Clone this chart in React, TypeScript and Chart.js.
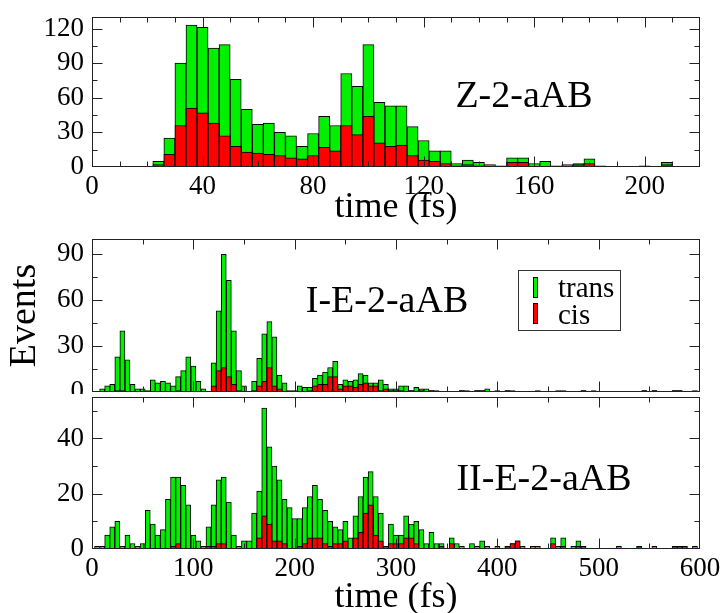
import React, { useEffect, useRef } from 'react';
import { Chart, registerables } from 'chart.js';

Chart.register(...registerables);

const SERIF = '"Liberation Serif", "Times New Roman", serif';
const GREEN = '#00f000';
const RED = '#ff0000';
const INK = '#222';

// ---------- Panel 1: Z-2-aAB (4 fs bins) ----------
const zTime = [24, 28, 32, 36, 40, 44, 48, 52, 56, 60, 64, 68, 72, 76, 80, 84, 88, 92, 96, 100, 104, 108, 112, 116, 120, 124, 128, 132, 136, 140, 144, 148, 152, 156, 160, 164, 168, 172, 176, 180, 184, 200, 208];
const zTrans = [5, 25, 90, 123, 121, 103, 106, 76, 50, 37, 38, 30, 27, 18, 29, 44, 36, 81, 70, 106, 56, 53, 53, 35, 23, 14, 14, 3, 6, 4, 2, 1, 8, 8, 3, 5, 1, 2, 3, 7, 1, 1, 4];
const zCis = [2, 11, 36, 51, 47, 38, 27, 18, 13, 12, 11, 10, 8, 7, 10, 17, 14, 36, 28, 44, 21, 18, 19, 10, 6, 5, 3, 1, 2, 1, 0, 0, 4, 4, 0, 0, 0, 0, 2, 3, 0, 0, 2];

// ---------- Panel 2: I-E-2-aAB (5 fs bins) ----------
const iTime = [10, 15, 20, 25, 30, 35, 40, 45, 50, 55, 60, 65, 70, 75, 80, 85, 90, 95, 100, 105, 110, 120, 125, 130, 135, 140, 145, 150, 160, 165, 170, 175, 180, 185, 190, 195, 200, 205, 210, 215, 220, 225, 230, 235, 240, 245, 250, 255, 260, 265, 270, 275, 280, 285, 290, 295, 300, 305, 310, 315, 320, 325, 330, 335, 340, 365, 370, 380, 385, 390, 400, 410, 415, 440, 460, 465, 485, 495, 545, 555, 575, 580, 595];
const iTrans = [2, 4, 5, 23, 40, 21, 5, 2, 2, 1, 8, 6, 7, 6, 4, 10, 14, 23, 17, 7, 2, 19, 53, 90, 73, 40, 14, 4, 7, 22, 38, 46, 36, 11, 6, 1, 1, 4, 3, 3, 9, 11, 13, 16, 20, 5, 8, 7, 8, 12, 11, 6, 6, 8, 5, 2, 2, 4, 4, 1, 3, 2, 2, 1, 1, 1, 1, 1, 1, 2, 1, 1, 1, 1, 1, 1, 1, 1, 1, 1, 1, 1, 1];
const iCis = [0, 0, 0, 1, 1, 0, 0, 0, 0, 0, 0, 0, 0, 0, 0, 1, 0, 0, 0, 0, 0, 4, 14, 16, 10, 5, 1, 0, 1, 4, 7, 16, 4, 2, 0, 0, 0, 0, 0, 1, 4, 5, 5, 10, 10, 2, 4, 4, 3, 5, 6, 4, 4, 1, 2, 1, 1, 1, 0, 1, 0, 1, 0, 1, 0, 1, 0, 1, 1, 0, 0, 1, 0, 0, 0, 0, 1, 0, 1, 1, 1, 1, 0];

// ---------- Panel 3: II-E-2-aAB (5 fs bins) ----------
const bTime = [5, 10, 15, 20, 25, 30, 35, 40, 45, 50, 55, 60, 65, 70, 75, 80, 85, 90, 95, 100, 105, 110, 115, 120, 125, 130, 135, 140, 145, 150, 155, 160, 165, 170, 175, 180, 185, 190, 195, 200, 205, 210, 215, 220, 225, 230, 235, 240, 245, 250, 255, 260, 265, 270, 275, 280, 285, 290, 295, 300, 305, 310, 315, 320, 325, 330, 335, 340, 345, 355, 360, 365, 375, 380, 385, 390, 400, 410, 415, 420, 425, 435, 440, 455, 460, 465, 475, 480, 485, 520, 540, 555, 575, 580, 585, 595];
const bTrans = [1, 1, 5, 8, 10, 1, 5, 2, 1, 2, 14, 9, 5, 7, 18, 26, 26, 23, 16, 5, 3, 1, 8, 16, 25, 26, 17, 5, 1, 3, 3, 13, 21, 51, 37, 30, 25, 18, 15, 11, 11, 15, 19, 23, 18, 14, 10, 8, 7, 10, 4, 12, 19, 26, 28, 19, 13, 1, 9, 5, 5, 12, 9, 10, 7, 2, 6, 2, 2, 4, 2, 1, 2, 1, 3, 1, 1, 1, 2, 3, 1, 1, 1, 4, 1, 4, 1, 3, 1, 1, 1, 1, 1, 1, 1, 1];
const bCis = [0, 0, 0, 0, 0, 0, 0, 0, 0, 0, 0, 0, 0, 0, 0, 1, 2, 0, 0, 0, 0, 0, 1, 1, 2, 2, 0, 0, 0, 0, 0, 0, 4, 12, 9, 3, 3, 2, 0, 0, 1, 2, 4, 4, 4, 2, 1, 2, 2, 3, 0, 4, 6, 13, 16, 5, 3, 1, 2, 2, 2, 4, 4, 2, 0, 0, 0, 0, 1, 2, 0, 0, 0, 0, 0, 0, 0, 1, 2, 3, 0, 0, 0, 2, 0, 1, 0, 1, 1, 0, 1, 0, 1, 1, 1, 0];

const legendLabels = ['trans', 'cis'];

const decoPlugin = {
  id: 'frameDeco',
  afterDatasetsDraw(chart: any, _args: any, opts: any) {
    const { ctx, chartArea: a } = chart;
    const xs = chart.scales.x;
    const ys = chart.scales.y;
    ctx.save();
    ctx.strokeStyle = INK;
    ctx.lineWidth = 1;
    const L = Math.round(a.left) + 0.5;
    const R = Math.round(a.right) - 0.5;
    const T = Math.round(a.top) + 0.5;
    const B = Math.round(a.bottom) - 0.5;
    ctx.strokeRect(L, T, R - L, B - T);
    ctx.beginPath();
    const isMajor = (v: number, m: number) => Math.abs(v / m - Math.round(v / m)) < 1e-6;
    for (let v = xs.min + opts.xMinor; v < xs.max - 1e-9; v += opts.xMinor) {
      const len = isMajor(v, opts.xMajor) ? 10 : 5;
      const px = Math.round(xs.getPixelForValue(v)) + 0.5;
      ctx.moveTo(px, B); ctx.lineTo(px, B - len);
      ctx.moveTo(px, T); ctx.lineTo(px, T + len);
    }
    for (let v = ys.min + opts.yMinor; v < ys.max - 1e-9; v += opts.yMinor) {
      const len = isMajor(v, opts.yMajor) ? 10 : 5;
      const py = Math.round(ys.getPixelForValue(v)) + 0.5;
      ctx.moveTo(L, py); ctx.lineTo(L + len, py);
      ctx.moveTo(R, py); ctx.lineTo(R - len, py);
    }
    ctx.stroke();

    if (opts.title) {
      ctx.fillStyle = '#000';
      ctx.font = `38px ${SERIF}`;
      ctx.textAlign = 'center';
      ctx.textBaseline = 'alphabetic';
      ctx.fillText(opts.title.text, opts.title.x, opts.title.y);
    }
    if (opts.legend) {
      const g = opts.legend;
      ctx.strokeStyle = '#333';
      ctx.strokeRect(g.x + 0.5, g.y + 0.5, g.w, g.h);
      const colors = [GREEN, RED];
      ctx.font = `29px ${SERIF}`;
      ctx.textAlign = 'left';
      ctx.textBaseline = 'alphabetic';
      legendLabels.forEach((lab, i) => {
        const sy = g.y + 7 + i * 26;
        ctx.fillStyle = colors[i];
        ctx.fillRect(g.x + 15, sy, 5, 21);
        ctx.strokeStyle = '#000';
        ctx.strokeRect(g.x + 15.5, sy + 0.5, 4, 20);
        ctx.fillStyle = '#000';
        ctx.fillText(lab, g.x + 40, g.y + 27 + i * 27);
      });
    }
    ctx.restore();
  },
};

type PanelProps = {
  top: number;
  height: number;
  time: number[];
  trans: number[];
  cis: number[];
  xMax: number;
  xMajor: number;
  xMinor: number;
  yMax: number;
  yMajor: number;
  yMinor: number;
  showX: boolean;
  padTop: number;
  padBottom: number;
  xAxisH: number;
  xTitle?: string;
  xTitlePad?: number;
  xTitleLH?: number;
  yTitle?: string;
  title: { text: string; x: number; y: number };
  legend?: { x: number; y: number; w: number; h: number };
};

function buildDatasets(time: number[], trans: number[], cis: number[]) {
  const t = time.map((x, i) => ({ x, y: trans[i] })).filter((p) => p.y > 0);
  const c = time.map((x, i) => ({ x, y: cis[i] })).filter((p) => p.y > 0);
  const common = {
    borderColor: '#000',
    borderWidth: 1,
    grouped: false,
    barPercentage: 1,
    categoryPercentage: 1,
  };
  return [
    { ...common, label: legendLabels[0], data: t, backgroundColor: GREEN, order: 2 },
    { ...common, label: legendLabels[1], data: c, backgroundColor: RED, order: 1 },
  ];
}

function HistPanel(p: PanelProps) {
  const ref = useRef<HTMLCanvasElement>(null);
  useEffect(() => {
    const tickFont = { family: SERIF, size: 27 };
    const chart = new Chart(ref.current as HTMLCanvasElement, {
      type: 'bar',
      data: { datasets: buildDatasets(p.time, p.trans, p.cis) as any },
      options: {
        animation: false,
        responsive: false,
        maintainAspectRatio: false,
        events: [],
        layout: { padding: { left: 0, right: 22, top: p.padTop, bottom: p.padBottom } },
        plugins: {
          legend: { display: false },
          tooltip: { enabled: false },
          frameDeco: {
            xMajor: p.xMajor, xMinor: p.xMinor, yMajor: p.yMajor, yMinor: p.yMinor,
            title: p.title, legend: p.legend,
          },
        } as any,
        scales: {
          x: {
            type: 'linear',
            display: p.showX,
            min: 0,
            max: p.xMax,
            offset: false,
            grid: { display: false, drawTicks: false },
            border: { display: false },
            ticks: {
              stepSize: p.xMajor,
              includeBounds: false,
              autoSkip: false,
              maxRotation: 0,
              padding: 4,
              color: '#000',
              font: tickFont,
            },
            title: {
              display: !!p.xTitle,
              text: p.xTitle || '',
              color: '#000',
              font: { family: SERIF, size: 36, lineHeight: p.xTitleLH || 1 },
              padding: { top: 0, bottom: p.xTitlePad || 0 },
            },
            afterFit: (s: any) => {
              s.height = p.xAxisH;
              s.paddingLeft = 0;
              s.paddingRight = 0;
            },
          },
          y: {
            type: 'linear',
            min: 0,
            max: p.yMax,
            grid: { display: false, drawTicks: false },
            border: { display: false },
            ticks: {
              stepSize: p.yMajor,
              includeBounds: false,
              padding: 8,
              color: '#000',
              font: tickFont,
            },
            title: {
              display: !!p.yTitle,
              text: p.yTitle || '',
              color: '#000',
              font: { family: SERIF, size: 38, lineHeight: 1 },
              padding: { top: 6, bottom: 0 },
            },
            afterFit: (s: any) => {
              s.width = 92;
              s.paddingTop = 0;
              s.paddingBottom = 0;
            },
          },
        } as any,
      },
      plugins: [decoPlugin],
    });
    return () => chart.destroy();
  }, []);
  return (
    <div style={{ position: 'absolute', left: 0, top: p.top, width: 722, height: p.height }}>
      <canvas ref={ref} width={722} height={p.height} style={{ display: 'block' }} />
    </div>
  );
}

export default function App() {
  return (
    <div style={{ position: 'absolute', left: 0, top: 0, width: 722, height: 613, background: '#fff', overflow: 'hidden' }}>
      <HistPanel
        top={0} height={235}
        time={zTime} trans={zTrans} cis={zCis}
        xMax={220} xMajor={40} xMinor={10}
        yMax={130} yMajor={30} yMinor={15}
        showX={true} padTop={17} padBottom={0} xAxisH={68}
        xTitle="time (fs)" xTitlePad={9}
        title={{ text: 'Z-2-aAB', x: 524, y: 107 }}
      />
      <HistPanel
        top={225} height={169}
        time={iTime} trans={iTrans} cis={iCis}
        xMax={600} xMajor={100} xMinor={50}
        yMax={100} yMajor={30} yMinor={15}
        showX={false} padTop={14} padBottom={2} xAxisH={0}
        yTitle="Events"
        title={{ text: 'I-E-2-aAB', x: 387, y: 87 }}
        legend={{ x: 518, y: 45, w: 102, h: 60 }}
      />
      <HistPanel
        top={394} height={219}
        time={bTime} trans={bTrans} cis={bCis}
        xMax={600} xMajor={100} xMinor={50}
        yMax={55} yMajor={20} yMinor={10}
        showX={true} padTop={3} padBottom={0} xAxisH={64}
        xTitle="time (fs)" xTitlePad={0} xTitleLH={0.85}
        title={{ text: 'II-E-2-aAB', x: 544, y: 96 }}
      />
    </div>
  );
}
